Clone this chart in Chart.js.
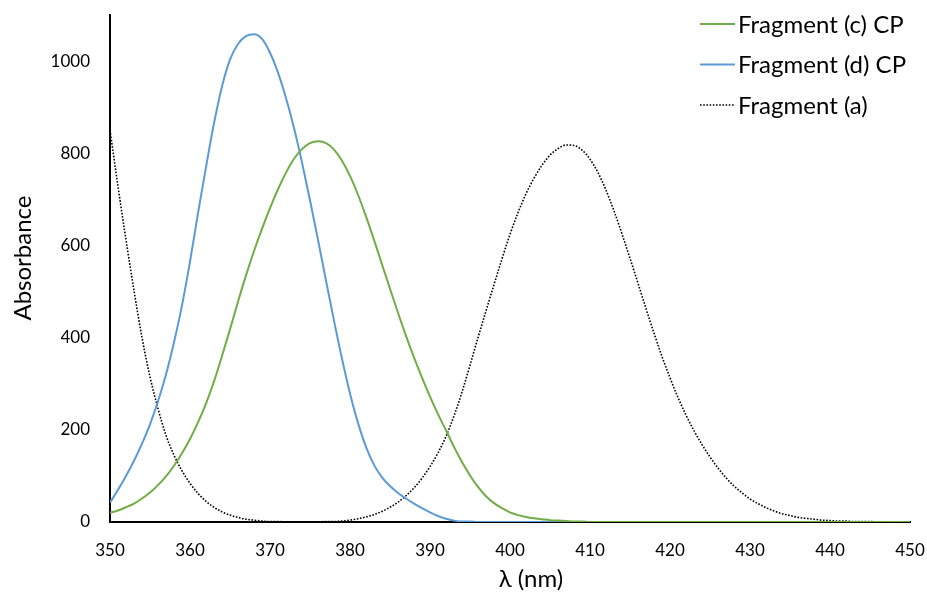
<!DOCTYPE html>
<html>
<head>
<meta charset="utf-8">
<script src="https://cdn.jsdelivr.net/npm/chart.js@4.4.0/dist/chart.umd.min.js"></script>
<style>
  html, body { margin: 0; padding: 0; background: #fff; }
  #wrap { width: 927px; height: 599px; position: relative; }
</style>
</head>
<body>
<div id="wrap"><canvas id="chart"></canvas></div>
<script>
// DATA
const wavelengths = [
  350,351,352,353,354,355,356,357,358,359,360,361,362,363,364,365,366,367,368,369,
  370,371,372,373,374,375,376,377,378,379,380,381,382,383,384,385,386,387,388,389,
  390,391,392,393,394,395,396,397,398,399,400,401,402,403,404,405,406,407,408,409,
  410,411,412,413,414,415,416,417,418,419,420,421,422,423,424,425,426,427,428,429,
  430,431,432,433,434,435,436,437,438,439,440,441,442,443,444,445,446,447,448,449,450
];

const fragC = [
  20,25,32,40,51,64,80,99,122,149,180,216,257,305,360,418,478,535,588,636,
  681,722,758,788,809,822,826,822,808,784,751,710,663,612,559,506,454,404,357,313,
  272,234,199,163,130,101,76,56,41,30,21,15,11,8,6,4,3,2,1,1,
  0,0,0,0,0,0,0,0,0,0,0,0,0,0,0,0,0,0,0,0,
  0,0,0,0,0,0,0,0,0,0,0,0,0,0,0,0,0,0,0,0,0
];

const fragD = [
  42,70,100,133,170,212,262,320,390,470,565,670,770,865,945,1003,1037,1054,1058,1048,
  1018,975,920,855,780,698,612,524,437,354,279,215,163,124,97,78,63,51,40,30,
  21,13,7,3,1,1,0,0,0,0,0,0,0,0,0,0,0,0,0,0,
  0,0,0,0,0,0,0,0,0,0,0,0,0,0,0,0,0,0,0,0,
  0,0,0,0,0,0,0,0,0,0,0,0,0,0,0,0,0,0,0,0,0
];

const fragA = [
  850,728,612,502,400,315,246,188,145,111,84,62,45,32,22,15,10,6,4,2,
  1,1,0,0,0,0,0,1,1,2,4,7,11,16,23,32,43,57,74,95,
  120,150,186,230,282,340,400,458,515,571,624,671,712,746,774,796,810,818,817,807,
  787,758,720,675,625,572,518,463,410,359,313,270,232,198,168,141,117,96,78,63,
  50,40,31,24,18,14,10,8,6,4,3,2,2,1,1,1,0,0,0,0,0
];

const xTicks = [350,360,370,380,390,400,410,420,430,440,450];
const yTicks = [0,200,400,600,800,1000];

const FONT = "Lato, 'DejaVu Sans', sans-serif";
const X_TITLE = 'λ (nm)';
const Y_TITLE = 'Absorbance';

// legend rows at the top right + both axis titles (placed where the original has them)
const overlay = {
  id: 'overlay',
  afterDraw(chart) {
    const ctx = chart.ctx;
    const x0 = chart.chartArea.right - 210;
    chart.data.datasets.forEach((ds, i) => {
      const y = 24 + i * 40.5;
      ctx.save();
      ctx.strokeStyle = ds.borderColor;
      ctx.lineWidth = ds.borderWidth;
      ctx.setLineDash(ds.borderDash || []);
      ctx.beginPath();
      ctx.moveTo(x0, y);
      ctx.lineTo(x0 + 35, y);
      ctx.stroke();
      ctx.setLineDash([]);
      ctx.fillStyle = '#000';
      ctx.font = '24px ' + FONT;
      ctx.textBaseline = 'middle';
      ctx.fillText(ds.label, x0 + 38, y + 1);
      ctx.restore();
    });
    ctx.save();
    ctx.fillStyle = '#000';
    ctx.font = '24px ' + FONT;
    ctx.textAlign = 'center';
    ctx.textBaseline = 'middle';
    ctx.fillText(X_TITLE, 531, 579);
    ctx.translate(23, 258);
    ctx.rotate(-Math.PI / 2);
    ctx.fillText(Y_TITLE, 0, 0);
    ctx.restore();
  }
};

new Chart(document.getElementById('chart'), {
  type: 'line',
  data: {
    labels: wavelengths,
    datasets: [
      { label: 'Fragment (c) CP', data: fragC, borderColor: '#70AD47', borderWidth: 2 },
      { label: 'Fragment (d) CP', data: fragD, borderColor: '#5B9BD5', borderWidth: 2 },
      { label: 'Fragment (a)', data: fragA, borderColor: '#000000', borderWidth: 1.6, borderDash: [1.6, 1.6] }
    ]
  },
  options: {
    responsive: true,
    maintainAspectRatio: false,
    animation: false,
    elements: {
      point: { radius: 0 },
      line: { cubicInterpolationMode: 'monotone', fill: false }
    },
    layout: { padding: 0 },
    plugins: { legend: { display: false }, tooltip: { enabled: false } },
    scales: {
      x: {
        type: 'linear',
        min: 350,
        max: 450,
        afterBuildTicks: s => { s.ticks = xTicks.map(v => ({ value: v })); },
        afterFit: s => { s.height = 77; s.paddingLeft = 0; s.paddingRight = 17; },
        grid: { display: false, drawTicks: false },
        border: { display: true, color: '#000', width: 2 },
        ticks: { color: '#000', padding: 18, maxRotation: 0, callback: v => String(v), font: { family: FONT, size: 17 } }
      },
      y: {
        min: 0,
        max: 1100,
        afterBuildTicks: s => { s.ticks = yTicks.map(v => ({ value: v })); },
        afterFit: s => { s.width = 110; s.paddingTop = 15; s.paddingBottom = 0; },
        grid: { display: false, drawTicks: false },
        border: { display: true, color: '#000', width: 2 },
        ticks: { color: '#000', padding: 20, callback: v => String(v), font: { family: FONT, size: 17 } }
      }
    }
  },
  plugins: [overlay]
});
</script>
</body>
</html>
